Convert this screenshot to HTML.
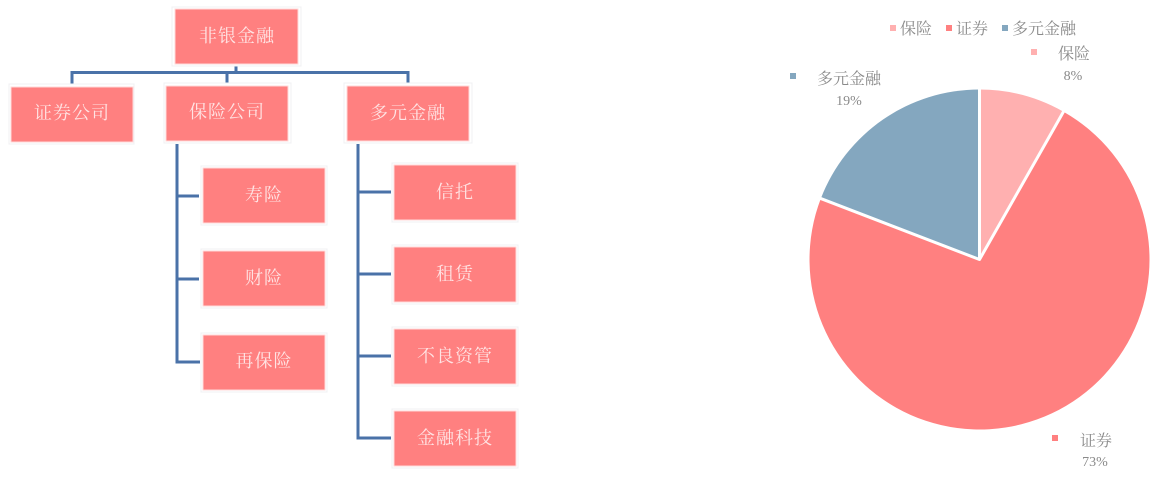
<!DOCTYPE html>
<html>
<head>
<meta charset="utf-8">
<style>
html,body{margin:0;padding:0;background:#fff;width:1164px;height:483px;overflow:hidden}
svg{display:block}
text{font-family:"Liberation Serif","Noto Serif CJK SC",serif}
.b{fill:#ff8080;stroke:#ffd9d9;stroke-width:1}
.f{fill:#fff;stroke:#f0f0f3;stroke-width:1}
.t{fill:#ffe4e4;font-size:18px;text-anchor:middle;letter-spacing:1px}
.l{fill:#8a8a8a;font-size:16px}
.c{fill:#8a8a8a;font-size:16px;text-anchor:middle}
.p{fill:#8a8a8a;font-size:14px;text-anchor:middle}
.w{fill:none;stroke:#4a72a8;stroke-width:3}
</style>
</head>
<body>
<svg width="1164" height="483" viewBox="0 0 1164 483" xmlns="http://www.w3.org/2000/svg">
<g class="w">
<path d="M72 84V72.500H408V84"/>
<path d="M227 84V72.500"/>
<path d="M236 66V72"/>
<path d="M177 144V362H200M177 196H199M177 279H199"/>
<path d="M358 144V438H391M358 192H391M358 274H391M358 356H391"/>
</g>
<g>
<rect class="f" x="172" y="7" width="129" height="59"/><rect class="b" x="175" y="9" width="123" height="55"/>
<rect class="f" x="9" y="84" width="125" height="60"/><rect class="b" x="11" y="87" width="122" height="55"/>
<rect class="f" x="164" y="83" width="127" height="60"/><rect class="b" x="166" y="86" width="122" height="55"/>
<rect class="f" x="344" y="83" width="128" height="60"/><rect class="b" x="347" y="86" width="122" height="55"/>
<rect class="f" x="201" y="166" width="126" height="59"/><rect class="b" x="203" y="168" width="122" height="55"/>
<rect class="f" x="201" y="249" width="126" height="59"/><rect class="b" x="203" y="251" width="122" height="55"/>
<rect class="f" x="201" y="333" width="126" height="59"/><rect class="b" x="203" y="335" width="122" height="55"/>
<rect class="f" x="392" y="163" width="126" height="59"/><rect class="b" x="394" y="165" width="122" height="55"/>
<rect class="f" x="392" y="245" width="126" height="59"/><rect class="b" x="394" y="247" width="122" height="55"/>
<rect class="f" x="392" y="327" width="126" height="59"/><rect class="b" x="394" y="329" width="122" height="55"/>
<rect class="f" x="392" y="409" width="126" height="59"/><rect class="b" x="394" y="411" width="122" height="55"/>
</g>
<g class="t">
<text x="237" y="42">非银金融</text>
<text x="72" y="119">证券公司</text>
<text x="227" y="118">保险公司</text>
<text x="408" y="119">多元金融</text>
<text x="264" y="201">寿险</text>
<text x="264" y="284">财险</text>
<text x="264" y="367">再保险</text>
<text x="455" y="198">信托</text>
<text x="455" y="280">租赁</text>
<text x="455" y="362">不良资管</text>
<text x="455" y="444">金融科技</text>
</g>
<path d="M979.500 259.500L979.500 89.500A170 170 0 0 1 1063.500 111.700Z" fill="#ffb0b0"/>
<path d="M979.500 259.500L1063.500 111.700A170 170 0 1 1 820.800 198.600Z" fill="#ff8080"/>
<path d="M979.500 259.500L820.800 198.600A170 170 0 0 1 979.500 89.500Z" fill="#84a7bf"/>
<path d="M979.500 88.500V259.500L1064 110.800M979.500 259.500L819.900 198.200" fill="none" stroke="#fff" stroke-width="3" stroke-linejoin="round"/>
<rect x="890" y="25" width="6" height="6" fill="#ffb0b0"/>
<text class="l" x="900" y="34">保险</text>
<rect x="946" y="25" width="6" height="6" fill="#ff8080"/>
<text class="l" x="956" y="34">证券</text>
<rect x="1002" y="25" width="6" height="6" fill="#84a7bf"/>
<text class="l" x="1012" y="34">多元金融</text>
<rect x="1031" y="49" width="6" height="6" fill="#ffb0b0"/>
<text class="c" x="1074" y="59">保险</text>
<text class="p" x="1073" y="80">8%</text>
<rect x="790" y="73" width="6" height="6" fill="#84a7bf"/>
<text class="c" x="849" y="84">多元金融</text>
<text class="p" x="849" y="105">19%</text>
<rect x="1052" y="435" width="6" height="6" fill="#ff8080"/>
<text class="c" x="1096" y="446">证券</text>
<text class="p" x="1095" y="466">73%</text>
</svg>
</body>
</html>
